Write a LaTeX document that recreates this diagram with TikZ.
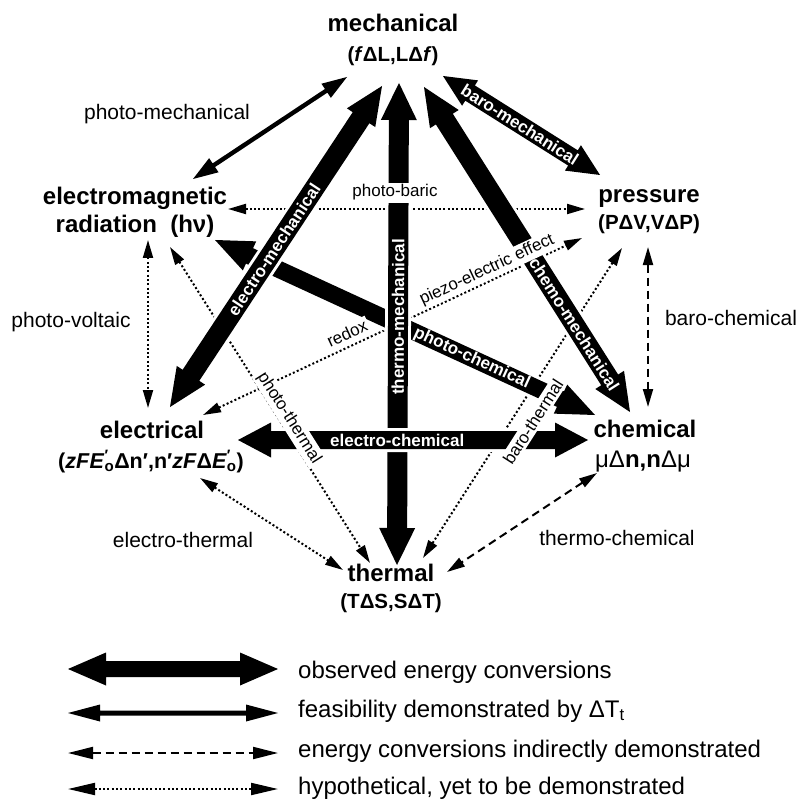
\documentclass[tikz,border=0pt]{standalone}
\usepackage{fontspec}
\setmainfont{Liberation Sans}
\usetikzlibrary{calc,arrows.meta}
\newcommand\fsz[1]{\fontsize{#1}{#1}\selectfont}
\newcommand\Eo{\textit{E}\rlap{\textsuperscript{′}}\textsubscript{o}}
\tikzset{
 nodelab/.style={font=\bfseries\fsz{24}, inner sep=0pt, anchor=base},
 sublab/.style={font=\bfseries\fsz{20.5}, inner sep=0pt, anchor=base},
 outlab/.style={font=\fsz{21}, inner sep=0pt, anchor=base},
 leglab/.style={font=\fsz{24}, inner sep=0pt, anchor=base west},
 linelab/.style={font=\fsz{17}, fill=white, inner sep=2pt},
 barlab/.style={font=\bfseries\fsz{17}, text=white, inner sep=0pt},
 fat/.style={fill=black, preaction={draw=white, line width=6pt, line join=round}},
 dotarrow/.style={line width=2pt, dash pattern=on 2pt off 2.3pt, >={Triangle[length=18pt,width=10pt]}, <->},
 dasharrow/.style={line width=2pt, dash pattern=on 8pt off 5pt, >={Triangle[length=18pt,width=10pt]}, <->},
}
% #1 from, #2 to, #3 half bar, #4 half head, #5 head length, #6 label pos, #7 label
\newcommand\fatarrow[7]{%
  \coordinate (hA) at ($(#1)!#5!(#2)$);
  \coordinate (hB) at ($(#2)!#5!(#1)$);
  \path[fat] (#1) -- ($(hA)!#4!90:(#2)$) -- ($(hA)!#3!90:(#2)$) -- ($(hB)!#3!-90:(#1)$) -- ($(hB)!#4!-90:(#1)$) -- (#2) -- ($(hB)!#4!90:(#1)$) -- ($(hB)!#3!90:(#1)$) -- ($(hA)!#3!-90:(#2)$) -- ($(hA)!#4!-90:(#2)$) -- cycle;
  \path (#1) -- (#2) node[barlab, pos=#6, sloped] {#7};
}
\begin{document}
\begin{tikzpicture}[x=1pt,y=-1pt]
\useasboundingbox (0,0) rectangle (799,799);
% connector end points
\coordinate (pbL) at (228,209); \coordinate (pbR) at (585,209);
\coordinate (pvT) at (148,240); \coordinate (pvB) at (148,408);
\coordinate (ptT) at (170,247); \coordinate (ptB) at (370,563);
\coordinate (rxL) at (203,415); \coordinate (rxR) at (582,238);
\coordinate (btT) at (622,248); \coordinate (btB) at (423,558);
\coordinate (etT) at (200,478); \coordinate (etB) at (343,570);
\coordinate (bcT) at (648,247); \coordinate (bcB) at (648,407);
\coordinate (tcT) at (597,473); \coordinate (tcB) at (447,572);
\coordinate (pmA) at (193,179); \coordinate (pmB) at (347,77);
\coordinate (emA) at (170,407); \coordinate (emB) at (382,86);
\coordinate (tmA) at (397,565); \coordinate (tmB) at (399,83);
\coordinate (cmA) at (424,87);  \coordinate (cmB) at (630,412);
\coordinate (bmA) at (443,76);  \coordinate (bmB) at (600,175);
\coordinate (pcA) at (215,240); \coordinate (pcB) at (595,415);
\coordinate (ecA) at (238,440); \coordinate (ecB) at (588,440);
% hypothetical and indirect conversions
\draw[dotarrow] (pbL) -- (pbR);
\draw[dotarrow] (pvT) -- (pvB);
\draw[dotarrow] (ptT) -- (ptB);
\draw[dotarrow] (rxL) -- (rxR);
\draw[dotarrow] (btT) -- (btB);
\draw[dotarrow] (etT) -- (etB);
\draw[dasharrow] (bcT) -- (bcB);
\draw[dasharrow] (tcT) -- (tcB);
% solid and observed conversions
\fatarrow{pmA}{pmB}{2.2pt}{8.5pt}{25pt}{0.5}{}
\fatarrow{bmA}{bmB}{9pt}{15pt}{32pt}{0.49}{baro-mechanical}
\fatarrow{pcA}{pcB}{8.5pt}{16pt}{38pt}{0.676}{photo-chemical}
\fatarrow{cmA}{cmB}{10pt}{17pt}{38pt}{0.73}{chemo-mechanical}
\fatarrow{emA}{emB}{10pt}{17pt}{38pt}{0.49}{electro-mechanical}
\fatarrow{tmA}{tmB}{10pt}{18pt}{37pt}{0.515}{thermo-mechanical}
\fatarrow{ecA}{ecB}{9pt}{17.5pt}{33pt}{0.455}{electro-chemical}
% labels on hypothetical lines
\node[linelab, anchor=base] (lpb) at (395,197) {photo-baric};
\node[linelab, rotate=25] (lrx) at (347,333) {redox};
\node[linelab, rotate=25] (lpz) at (487,270) {piezo-electric effect};
\node[linelab, rotate=-57.7] (lpt) at (289,418) {photo-thermal};
\node[linelab, rotate=57.3] (lbt) at (533,422) {baro-thermal};
% energy forms
\node[nodelab] (mech) at (393,32) {mechanical};
\node[sublab] (mechs) at (393,62) {(\textit{f}ΔL,LΔ\textit{f})};
\node[nodelab] (em) at (135,205) {electromagnetic};
\node[nodelab] (ems) at (135,233) {radiation\ \ (hν)};
\node[nodelab] (pres) at (649,203) {pressure};
\node[sublab] (press) at (649,230) {(PΔV,VΔP)};
\node[nodelab] (elec) at (152,438) {electrical};
\node[sublab, font=\bfseries\fsz{21.5}] (elecs) at (151,468) {(\textit{zF}\Eo Δn′,n′\textit{zF}Δ\Eo)};
\node[nodelab] (chem) at (645,437) {chemical};
\node[nodelab] (chems) at (643,467) {{\mdseries μΔ}n,n{\mdseries Δμ}};
\node[nodelab] (therm) at (391,581) {thermal};
\node[sublab] (therms) at (391,608) {(TΔS,SΔT)};
% outer labels
\node[outlab] (lpm) at (167,120) {photo-mechanical};
\node[outlab] (lpv) at (71,327) {photo-voltaic};
\node[outlab] (let) at (183,547) {electro-thermal};
\node[outlab] (lbc) at (731,325) {baro-chemical};
\node[outlab] (ltc) at (617,545) {thermo-chemical};
% legend
\coordinate (g1a) at (68,669); \coordinate (g1b) at (278,669);
\coordinate (g2a) at (68,713); \coordinate (g2b) at (278,713);
\coordinate (g3a) at (68,753); \coordinate (g3b) at (278,753);
\coordinate (g4a) at (68,789); \coordinate (g4b) at (278,789);
\fatarrow{g1a}{g1b}{8pt}{16.5pt}{38pt}{0.5}{}
\fatarrow{g2a}{g2b}{2.5pt}{8.5pt}{32pt}{0.5}{}
\draw[dasharrow, >={Triangle[length=25pt,width=12pt]}] (g3a) -- (g3b);
\draw[dotarrow, >={Triangle[length=27pt,width=12pt]}] (g4a) -- (g4b);
\node[leglab] (t1) at (298,678) {observed energy conversions};
\node[leglab] (t2) at (298,717) {feasibility demonstrated by ΔT\textsubscript{t}};
\node[leglab] (t3) at (298,757) {energy conversions indirectly demonstrated};
\node[leglab] (t4) at (298,794) {hypothetical, yet to be demonstrated};
\end{tikzpicture}
\end{document}
